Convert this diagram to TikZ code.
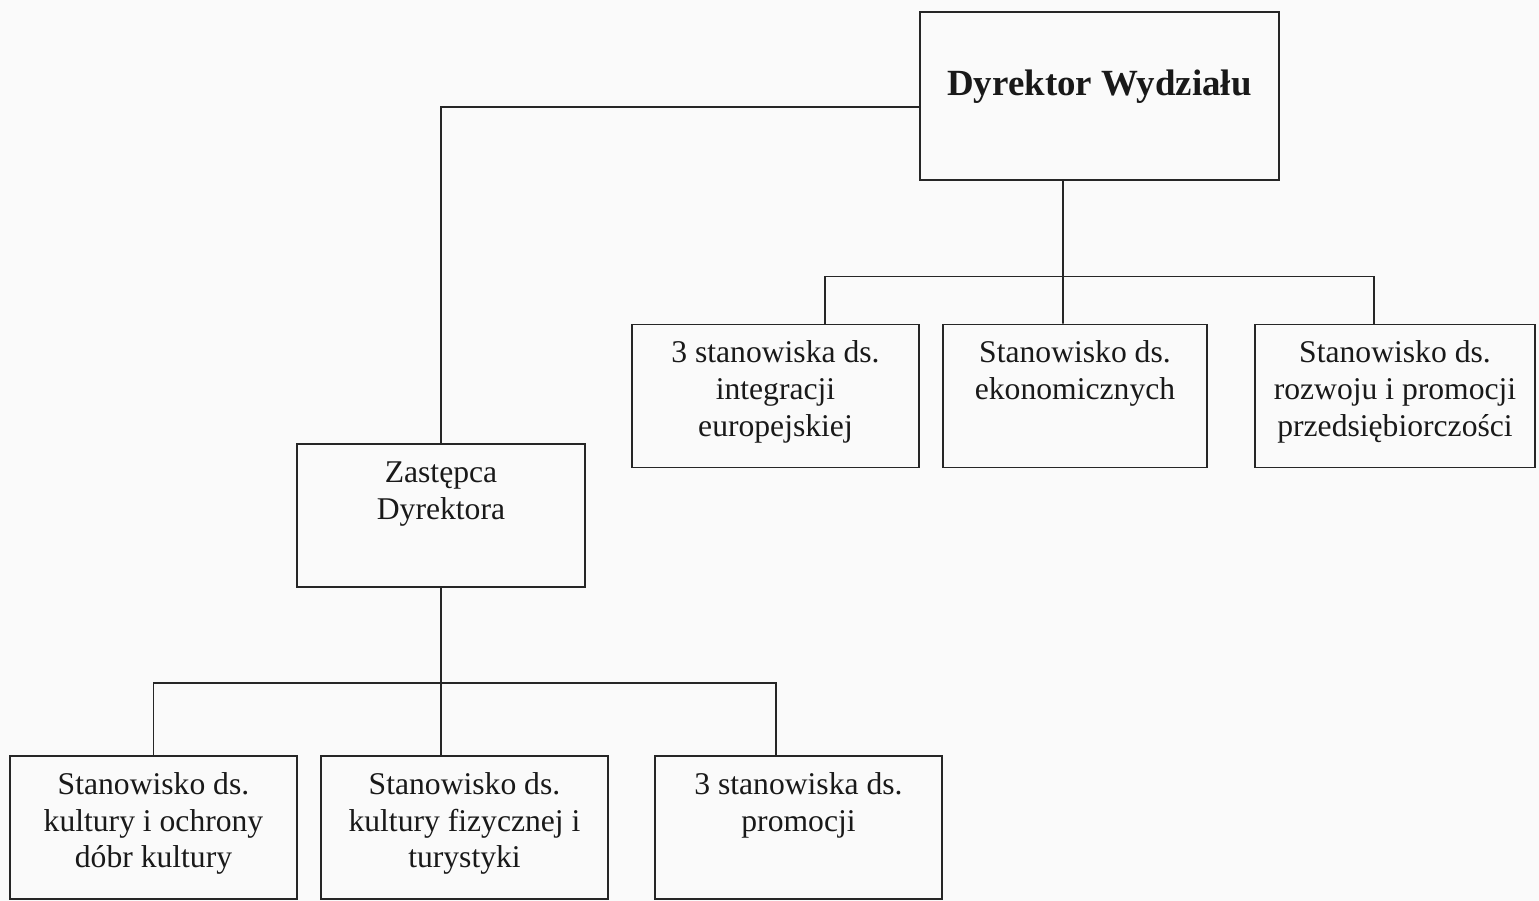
\documentclass[tikz,border=0pt]{standalone}
\usepackage{fontspec}
\setmainfont{Liberation Serif}
\usetikzlibrary{positioning}
\newcommand{\opis}[2]{\parbox[c][2.86cm][t]{#1}{\centering\vspace{7pt}\strut#2}}

\begin{document}
\begin{tikzpicture}[
    box/.style={draw=black!85, line width=1pt, inner sep=0pt, text=black!90, font=\fontsize{18}{21}\selectfont},
    linia/.style={draw=black!85, line width=1pt}]
    \useasboundingbox[fill=black!2] (0,0) rectangle (30.78,-18.02);
    % kierownictwo
    \node [box] (dyr) at (21.99,-1.92) {\parbox[c][3.36cm][t]{7.18cm}{\centering\vspace{30pt}\fontsize{21}{25}\selectfont\bfseries\strut Dyrektor Wydziału}};
    \node [box] (zast) at (8.82,-10.31) {\opis{5.76cm}{Zastępca\\Dyrektora}};
    % stanowiska pod dyrektorem
    \node [box] (integr) at (15.51,-7.92) {\opis{5.74cm}{3 stanowiska ds.\\integracji\\europejskiej}};
    \node [box] (ekon) at (21.50,-7.92) {\opis{5.28cm}{Stanowisko ds.\\ekonomicznych}};
    \node [box] (rozw) at (27.90,-7.92) {\opis{5.60cm}{Stanowisko ds.\\rozwoju i promocji\\przedsiębiorczości}};
    % stanowiska pod zastepca
    \node [box] (kult) at (3.07,-16.55) {\opis{5.74cm}{Stanowisko ds.\\kultury i ochrony\\dóbr kultury}};
    \node [box] (tur) at (9.29,-16.55) {\opis{5.74cm}{Stanowisko ds.\\kultury fizycznej i\\turystyki}};
    \node [box] (prom) at (15.97,-16.55) {\opis{5.74cm}{3 stanowiska ds.\\promocji}};
    % polaczenia
    \draw [linia] ([yshift=-0.22cm]dyr.west) -| (zast.north);
    \draw [linia] ([xshift=-0.73cm]dyr.south) -- ([xshift=-0.24cm]ekon.north);
    \draw [linia] ([xshift=0.99cm]integr.north) -- ++(0,0.94) -| ([xshift=-0.42cm]rozw.north);
    \draw [linia] (zast.south) -- ([xshift=-0.47cm]tur.north);
    \draw [linia] (kult.north) -- ++(0,1.44) -| ([xshift=-0.45cm]prom.north);
\end{tikzpicture}
\end{document}
